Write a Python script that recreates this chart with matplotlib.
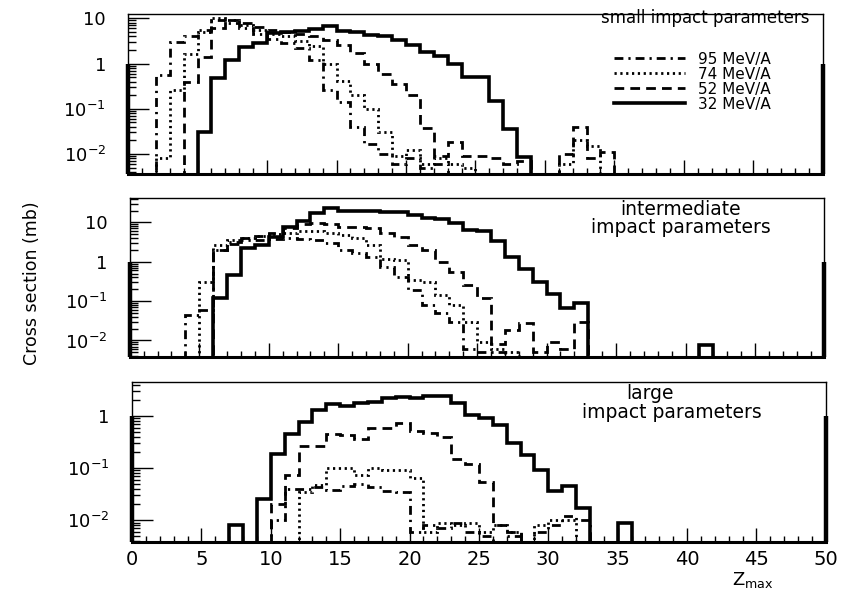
import numpy as np
import matplotlib
matplotlib.use("Agg")
import matplotlib.pyplot as plt
from matplotlib.lines import Line2D
from matplotlib.ticker import FixedLocator, MultipleLocator, LogLocator, FuncFormatter, NullFormatter

ENERGIES = ["95 MeV/A", "74 MeV/A", "52 MeV/A", "32 MeV/A"]

# each histogram: first Zmax bin, then cross section (mb) per unit bin
small_95_start = 2
small_95 = [0.55, 3.0, 4.0, 5.5, 9.0, 8.0, 6.0, 4.5, 3.5, 2.8, 2.2, 1.2, 0.26, 0.14,
            0.04, 0.017, 0.01, 0.006, 0.008, 0.005, 0.006]
small_74_start = 2
small_74 = [0.008, 0.26, 1.6, 5.0, 10.0, 9.0, 7.0, 5.5, 4.5, 4.0, 3.2, 2.4, 1.0, 0.42,
            0.2, 0.1, 0.03, 0.009, 0.012, 0.006, 0.008, 0.006, 0.005, 0, 0, 0, 0, 0,
            0, 0.006, 0.02, 0.015]
small_52_start = 4
small_52 = [0.4, 1.4, 6.0, 9.0, 8.0, 6.5, 5.5, 5.0, 4.5, 4.0, 3.4, 2.6, 1.7, 1.0,
            0.58, 0.35, 0.2, 0.038, 0.009, 0.018, 0.009, 0.009, 0.008, 0.006, 0.007,
            0, 0, 0.01, 0.04, 0.008, 0.011]
small_32_start = 5
small_32 = [0.03, 0.47, 1.2, 2.3, 2.8, 4.8, 5.0, 5.3, 5.8, 6.7, 5.2, 5.0, 4.3, 4.0,
            3.3, 2.55, 1.8, 1.5, 1.0, 0.5, 0.5, 0.15, 0.035, 0.0085]

inter_95_start = 4
inter_95 = [0.045, 0.06, 2.0, 3.2, 3.5, 3.5, 3.8, 4.0, 3.8, 3.5, 3.0, 2.0, 1.7, 1.3,
            0.75, 0.42, 0.19, 0.08, 0.05, 0.03, 0.006, 0.005, 0.005]
inter_74_start = 5
inter_74 = [0.3, 2.6, 3.5, 4.0, 4.5, 5.0, 5.5, 6.0, 6.0, 5.5, 4.8, 4.0, 2.6, 1.2,
            1.1, 0.35, 0.3, 0.14, 0.08, 0.03, 0.009, 0.006, 0.005]
inter_52_start = 6
inter_52 = [2.0, 2.8, 3.9, 4.5, 5.5, 7.0, 9.0, 9.4, 9.0, 7.5, 7.7, 7.3, 5.5, 4.2,
            2.65, 2.0, 1.0, 0.56, 0.25, 0.12, 0.008, 0.018, 0.027, 0.005, 0.009,
            0.006, 0.03]
inter_32_start = 6
inter_32 = [0.12, 0.46, 2.2, 2.7, 4.3, 7.5, 11.0, 17.0, 23.0, 20.0, 19.0, 19.0, 18.0,
            18.0, 15.0, 13.0, 12.5, 9.8, 6.5, 6.2, 3.3, 1.3, 0.65, 0.3, 0.15, 0.065,
            0.087, 0, 0, 0, 0, 0, 0, 0, 0, 0.0076]

large_95_start = 10
large_95 = [0.01, 0.04, 0.04, 0.044, 0.038, 0.045, 0.05, 0.044, 0.036, 0.035, 0.006,
            0.008, 0.007, 0.009, 0.006, 0.005, 0, 0.005, 0, 0.006, 0.008, 0.012, 0.01]
large_74_start = 12
large_74 = [0.035, 0.048, 0.1, 0.1, 0.075, 0.1, 0.09, 0.09, 0.065, 0.006, 0.009,
            0.008, 0.009, 0.006, 0.008, 0.006, 0, 0.008, 0.01, 0.01]
large_52_start = 10
large_52 = [0.02, 0.075, 0.26, 0.27, 0.46, 0.43, 0.36, 0.6, 0.6, 0.72, 0.52, 0.47,
            0.39, 0.15, 0.12, 0.055, 0.008, 0.006]
large_32_start = 7
large_32 = [0.008, 0, 0.025, 0.19, 0.46, 0.78, 1.3, 1.7, 1.55, 1.75, 1.9, 2.2, 2.35,
            2.2, 2.4, 2.4, 1.75, 1.05, 0.9, 0.67, 0.3, 0.18, 0.093, 0.036, 0.045,
            0.017, 0, 0, 0.0088]

Y_TICKS = [0.01, 0.1, 1, 10]
Y_TICK_LABELS = {0.01: r"$\mathregular{10^{-2}}$", 0.1: r"$\mathregular{10^{-1}}$",
                 1: "1", 10: "10"}
EDGE_LEVEL = 1.0

styles = [
    dict(ls=(0, (3.2, 1.8, 0.8, 1.8)), lw=2.0),   # 95
    dict(ls=(0, (0.8, 1.3)), lw=2.0),             # 74
    dict(ls=(0, (3.5, 2.2)), lw=2.0),             # 52
    dict(ls="-", lw=2.6),                         # 32
]

fig = plt.figure(figsize=(8.43, 5.91), dpi=100)
ax1 = fig.add_axes([0.152, 0.7056, 0.824, 0.2707])
ax2 = fig.add_axes([0.154, 0.3959, 0.824, 0.2690])
ax3 = fig.add_axes([0.1566, 0.0829, 0.823, 0.2707])


def draw_panel(ax, hists, ylim, show_xlabels):
    for (start, vals), st in zip(hists, styles):
        vals = np.asarray(vals, dtype=float)
        edges = np.arange(start, start + len(vals) + 1)
        ax.stairs(vals, edges, baseline=0, color="black", linestyle=st["ls"],
                  linewidth=st["lw"], zorder=3 if st["ls"] == "-" else 2)
    ax.set_yscale("log")
    ax.set_xlim(0, 50)
    ax.set_ylim(*ylim)
    ax.vlines([0, 50], ylim[0], EDGE_LEVEL, colors="black", lw=3.2,
              clip_on=False, zorder=4)

    ax.xaxis.set_major_locator(MultipleLocator(5))
    ax.xaxis.set_minor_locator(MultipleLocator(1))
    ax.tick_params(axis="x", which="major", direction="in", length=10, width=1.0,
                   top=False, labelsize=14, pad=6, labelbottom=show_xlabels)
    ax.tick_params(axis="x", which="minor", direction="in", length=4, width=1.0,
                   top=False)
    ax.yaxis.set_major_locator(FixedLocator(Y_TICKS))
    ax.yaxis.set_minor_locator(LogLocator(base=10, subs=np.arange(2, 10)))
    ax.yaxis.set_major_formatter(FuncFormatter(lambda v, p: Y_TICK_LABELS.get(round(v, 3), "")))
    ax.yaxis.set_minor_formatter(NullFormatter())
    ax.tick_params(axis="y", which="major", direction="in", length=15, width=1.0,
                   right=False, labelsize=13, pad=16)
    ax.tick_params(axis="y", which="minor", direction="in", length=6, width=1.0,
                   right=False)
    for side in ["top", "right", "left"]:
        ax.spines[side].set_linewidth(1.0)
    ax.spines["bottom"].set_linewidth(2.2)


draw_panel(ax1, [(small_95_start, small_95), (small_74_start, small_74),
                 (small_52_start, small_52), (small_32_start, small_32)],
           (0.0036, 12.5), False)
draw_panel(ax2, [(inter_95_start, inter_95), (inter_74_start, inter_74),
                 (inter_52_start, inter_52), (inter_32_start, inter_32)],
           (0.0038, 41.5), False)
draw_panel(ax3, [(large_95_start, large_95), (large_74_start, large_74),
                 (large_52_start, large_52), (large_32_start, large_32)],
           (0.0038, 4.5), True)

ax1.text(0.981, 0.975, "small impact parameters", transform=ax1.transAxes,
         ha="right", va="center", fontsize=12)
ax2.text(0.793, 0.99, "intermediate\nimpact parameters", transform=ax2.transAxes,
         ha="center", va="top", multialignment="center", fontsize=13.5,
         linespacing=0.95)
ax3.text(0.746, 0.93, "large", transform=ax3.transAxes,
         ha="center", va="center", fontsize=13.5)
ax3.text(0.778, 0.81, "impact parameters", transform=ax3.transAxes,
         ha="center", va="center", fontsize=13.5)

handles = [Line2D([], [], color="black", linestyle=st["ls"], linewidth=st["lw"])
           for st in styles]
ax1.legend(handles, ENERGIES, loc="upper left", bbox_to_anchor=(0.70, 0.765),
           frameon=False, fontsize=11, handlelength=4.6, handletextpad=0.9,
           labelspacing=0.0, borderpad=0, borderaxespad=0)

fig.text(0.038, 0.521, "Cross section (mb)", rotation=90, ha="center",
         va="center", fontsize=12.5)
fig.text(0.893, 0.019, r"$\mathregular{Z_{max}}$", ha="center", va="center",
         fontsize=13)

fig.savefig("out.png", dpi=100)
